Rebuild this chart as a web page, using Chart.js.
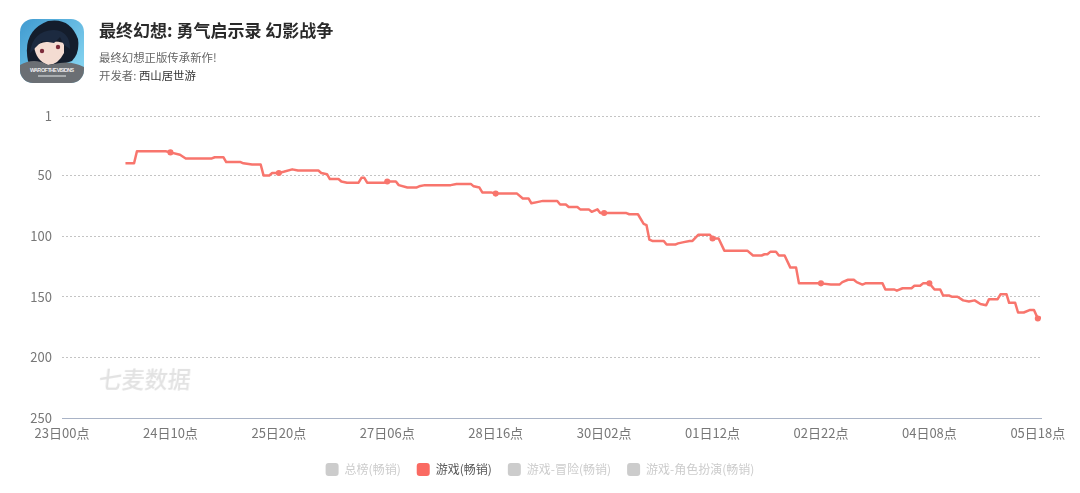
<!DOCTYPE html>
<html>
<head>
<meta charset="utf-8">
<title>最终幻想: 勇气启示录 幻影战争</title>
<script src="https://cdn.jsdelivr.net/npm/chart.js@4"></script>
<style>
  html, body { margin: 0; padding: 0; background: #fff; }
  body { width: 1080px; height: 493px; overflow: hidden; position: relative; font-family: "Noto Sans CJK SC", sans-serif; }
  #chart { position: absolute; left: 0; top: 0; }
  .icon { position: absolute; left: 20px; top: 19px; width: 64px; height: 64px; }
  .title { position: absolute; left: 99px; top: 19px; font-size: 17px; line-height: 22px; font-weight: 700; color: #2a2a2a; white-space: nowrap; }
  .sub { position: absolute; left: 99px; font-size: 11.4px; line-height: 16px; color: #666; white-space: nowrap; }
  .sub b { font-weight: 400; color: #333; }
  .mark { position: absolute; left: 99px; top: 362px; font-size: 23px; line-height: 32px; font-weight: 500; color: #e2e2e2; white-space: nowrap; transform: skewX(-6deg); }
</style>
</head>
<body>
<canvas id="chart" width="1080" height="493"></canvas>
<svg class="icon" viewBox="0 0 64 64">
  <defs>
    <clipPath id="round"><rect width="64" height="64" rx="13"/></clipPath>
    <linearGradient id="sky" x1="0" y1="0" x2="1" y2="1">
      <stop offset="0" stop-color="#3f9ad0"/><stop offset="1" stop-color="#8fdcf5"/>
    </linearGradient>
  </defs>
  <g clip-path="url(#round)">
    <rect width="64" height="64" fill="url(#sky)"/>
    <path d="M8 42 Q2 12 28 2 Q50 -2 58 20 Q60 34 52 42 L40 46 L12 50 Z" fill="#141d2c"/>
    <path d="M14 27 Q28 20 44 24 L44 34 Q38 46 28 46 Q16 42 14 27 Z" fill="#f4dcd2"/>
    <path d="M10 34 Q12 12 34 11 Q50 12 50 30 L44 26 L40 18 L34 24 L22 22 L16 28 Z" fill="#1c2a40"/>
    <circle cx="22" cy="32" r="2.2" fill="#7c2b3a"/>
    <circle cx="38" cy="28" r="2.2" fill="#7c2b3a"/>
    <path d="M0 64 L0 46 Q14 38 28 46 L40 44 Q52 42 64 48 L64 64 Z" fill="#6b6f74"/>
    <text x="32" y="53" text-anchor="middle" font-family="Liberation Sans" font-size="5.4" font-weight="700" fill="#eeeeee" textLength="44">WAR OF THE VISIONS</text>
    <rect x="18" y="56" width="28" height="2" fill="#a9adb0"/>
  </g>
</svg>
<div class="title">最终幻想: 勇气启示录 幻影战争</div>
<div class="sub" style="top:49px">最终幻想正版传承新作!</div>
<div class="sub" style="top:67px">开发者: <b>西山居世游</b></div>
<div class="mark">七麦数据</div>

<script>
const tickLabels = ['23日00点', '24日10点', '25日20点', '27日06点', '28日16点', '30日02点', '01日12点', '02日22点', '04日08点', '05日18点'];
const seriesNames = ['总榜(畅销)', '游戏(畅销)', '游戏-冒险(畅销)', '游戏-角色扮演(畅销)'];
const rankTicks = [1, 50, 100, 150, 200, 250];

const hours = [
  19.9, 22.6, 23.5, 32.5, 34, 37, 38.8, 47, 47.9, 50.6, 51.5, 56, 56.9, 59.6, 62.3, 63.2, 65, 65.9, 68, 69.5,
  72.2, 74, 80.4, 81.3, 83.1, 84, 86.7, 87.6, 89.4, 93, 93.9, 94.8, 95.7, 101.1, 102, 104.7, 105.6, 108.3, 111.1, 112,
  113.8, 121.9, 123.7, 128.2, 129.1, 130.9, 131.8, 134.5, 136, 142.7, 144.5, 146.3, 147.2, 149, 150.8, 155.3, 156.2, 158, 158.9, 161.6,
  162.5, 165.2, 166.1, 167, 167.9, 168.8, 170, 177, 177.9, 180.6, 182.4, 183.3, 184.2, 185.1, 188.7, 189.6, 192.3, 193.2, 195, 196.8,
  197.7, 199.5, 203.2, 204, 205.9, 207.7, 214.9, 216.7, 219.4, 220.3, 221.2, 222.1, 223.9, 224.8, 226.6, 228.4, 230.2, 231.1, 238, 241.1,
  243.8, 244.7, 246.5, 248.3, 249.2, 251, 251.9, 257.3, 258.2, 260.9, 261.8, 263.6, 266.4, 267.3, 269.1, 270, 272, 273.6, 275.4, 276.3,
  278.1, 279, 280.8, 282.6, 284.4, 286.2, 288, 289.8, 290.7, 293.4, 294.3, 296.2, 297, 298.9, 299.8, 301.6, 303.4, 304.8, 306, 307
];
const ranks = [
  40, 40, 30, 30, 31, 33, 36, 36, 35, 35, 39, 39, 40, 41, 41, 50, 50, 48, 48, 47,
  45, 46, 46, 48, 49, 53, 53, 55, 56, 56, 52, 52, 56, 56, 55, 55, 58, 60, 60, 59,
  58, 58, 57, 57, 59, 60, 64, 64, 65, 65, 69, 69, 73, 72, 71, 71, 74, 74, 76, 76,
  78, 78, 80, 79, 78, 81, 81, 81, 82, 82, 90, 91, 103, 104, 104, 107, 107, 106, 105, 104,
  104, 99, 99, 102, 102, 112, 112, 116, 116, 115, 115, 113, 113, 116, 116, 126, 126, 139, 139, 140,
  140, 138, 136, 136, 138, 140, 139, 139, 144, 144, 145, 143, 143, 141, 141, 139, 139, 144, 144, 149,
  149, 150, 150, 153, 154, 153, 156, 157, 152, 152, 148, 148, 155, 155, 163, 163, 161, 161, 168, 167
];
const markerHours = [34, 68, 102, 136, 170, 204, 238, 272, 306];

const lineColor = '#f8756d';
const offColor = '#cccccc';
const points = hours.map((h, i) => ({ x: h, y: ranks[i] }));

new Chart(document.getElementById('chart'), {
  type: 'line',
  data: {
    datasets: seriesNames.map((name, i) => ({
      label: name,
      data: i === 1 ? points : [],
      borderColor: i === 1 ? lineColor : offColor,
      backgroundColor: i === 1 ? lineColor : offColor,
      borderWidth: 2.5,
      borderJoinStyle: 'round',
      tension: 0,
      pointRadius: (ctx) => (markerHours.includes(hours[ctx.dataIndex]) ? 1.8 : 0),
    })),
  },
  options: {
    responsive: false,
    animation: false,
    devicePixelRatio: 1,
    layout: { padding: { top: 116, right: 0, bottom: 7, left: 0 } },
    scales: {
      x: {
        type: 'linear',
        min: 0,
        max: 307,
        afterFit: (scale) => { scale.height = 29; },
        afterBuildTicks: (scale) => { scale.ticks = tickLabels.map((_, i) => ({ value: i * 34 })); },
        ticks: {
          autoSkip: false,
          maxRotation: 0,
          padding: 7,
          color: '#777',
          font: { family: '"Noto Sans CJK SC"', size: 13 },
          callback: (value) => tickLabels[value / 34],
        },
        grid: { display: false, drawTicks: false },
        border: { color: '#a9b3c6', width: 1 },
      },
      y: {
        reverse: true,
        min: 1,
        max: 250,
        afterFit: (scale) => { scale.width = 62; },
        afterBuildTicks: (scale) => { scale.ticks = rankTicks.map((value) => ({ value })); },
        ticks: {
          autoSkip: false,
          padding: 10,
          color: '#777',
          font: { family: '"Noto Sans CJK SC"', size: 13 },
        },
        grid: {
          color: (ctx) => (ctx.tick && ctx.tick.value === 250 ? 'rgba(0,0,0,0)' : '#c4c4c4'),
          drawTicks: false,
        },
        border: { display: false, dash: [2, 2] },
      },
      // empty axis on the right, keeps the plot short of the edge while the legend centres on the page
      gap: {
        position: 'right',
        afterFit: (scale) => { scale.width = 39; },
        ticks: { display: false },
        grid: { display: false },
        border: { display: false },
      },
    },
    plugins: {
      tooltip: { enabled: false },
      legend: {
        position: 'bottom',
        onClick: null,
        labels: {
          boxWidth: 13,
          boxHeight: 13,
          padding: 16,
          useBorderRadius: true,
          borderRadius: 3,
          font: { family: '"Noto Sans CJK SC"', size: 12 },
          // only the game series is switched on, the others stay grey
          generateLabels: () => seriesNames.map((name, i) => ({
            text: name,
            datasetIndex: i,
            fillStyle: i === 1 ? '#fa6a62' : offColor,
            strokeStyle: 'rgba(0,0,0,0)',
            lineWidth: 0,
            fontColor: i === 1 ? '#555' : offColor,
            hidden: false,
            borderRadius: 3,
          })),
        },
      },
    },
  },
});
</script>
</body>
</html>
